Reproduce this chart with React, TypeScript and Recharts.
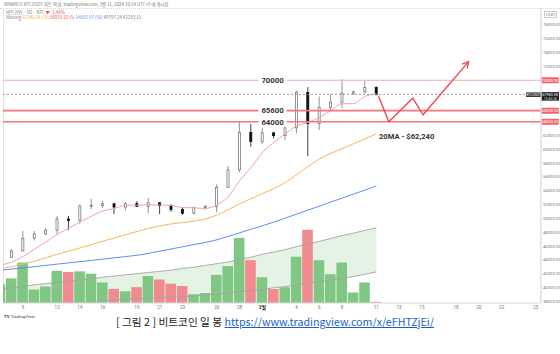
import {
  ComposedChart,
  Bar,
  Line,
  Area,
  XAxis,
  YAxis,
  Cell,
  ReferenceLine,
  ReferenceDot,
} from 'recharts';

// daily candles, Feb 7 – Mar 11 2024 (BTC/USDT)
const days = [
  '2/7', '2/8', '2/9', '2/10', '2/11', '2/12', '2/13', '2/14', '2/15', '2/16', '2/17',
  '2/18', '2/19', '2/20', '2/21', '2/22', '2/23', '2/24', '2/25', '2/26', '2/27', '2/28',
  '2/29', '3/1', '3/2', '3/3', '3/4', '3/5', '3/6', '3/7', '3/8', '3/9', '3/10', '3/11',
];
const opens = [
  43088, 44342, 45288, 47132, 47751, 48300, 49917, 49699, 51795, 51880, 52124,
  51642, 52138, 51739, 52258, 51849, 51288, 50744, 51568, 51730, 54476, 57037,
  62432, 61130, 62387, 61987, 63114, 68245, 63724, 66075, 66824, 68124, 68313, 68955,
];
const highs = [
  44370, 45580, 48200, 48170, 48592, 50334, 50368, 52043, 52816, 52572, 52191,
  52377, 52488, 52985, 52366, 52065, 51548, 51698, 51958, 54938, 57588, 64000,
  63676, 63114, 62433, 63231, 68499, 69000, 67637, 67985, 70136, 68541, 69887, 69150,
];
const lows = [
  42788, 44300, 45242, 46800, 47557, 47710, 48300, 49225, 51314, 51566, 50625,
  51163, 51677, 50760, 50625, 50940, 50521, 50585, 51279, 50901, 54450, 56690,
  60364, 60777, 61561, 61320, 62300, 59005, 62787, 65600, 66000, 67861, 68094, 67800,
];
const closes = [
  44342, 45288, 47132, 47751, 48300, 49917, 49699, 51795, 51880, 52124, 51642,
  52137, 51739, 52258, 51849, 51288, 50744, 51568, 51729, 54476, 57037, 62432,
  61130, 62387, 61987, 63113, 68245, 63724, 66074, 66823, 68124, 68313, 68955, 67950,
];
// volume, thousand BTC
const volumes = [
  32, 42, 69, 23, 28, 55, 53, 54, 50, 35, 24,
  20, 27, 46, 40, 33, 29, 15, 17, 48, 63, 111,
  73, 44, 24, 27, 79, 125, 73, 49, 69, 18, 35, 2,
];
const ma5 = [
  43240, 43658, 44486, 45521, 46563, 47678, 48560, 49492, 50318, 51083, 51428,
  51916, 51904, 51980, 51925, 51854, 51576, 51541, 51436, 51961, 53111, 55448,
  57361, 59492, 60995, 62210, 63372, 63891, 64629, 65596, 66598, 66612, 67658, 68033,
];
const ma20 = [
  42700, 43000, 43400, 43800, 44300, 44800, 45250, 45720, 46200, 46700, 47150,
  47650, 48100, 48550, 48900, 49200, 49400, 49600, 49900, 50500, 51250, 52100,
  52850, 53600, 54300, 55200, 56300, 57500, 58600, 59400, 60100, 60800, 61500, 62240,
];
const ma50 = [
  42480, 42660, 42840, 43020, 43200, 43380, 43560, 43740, 43920, 44100, 44290,
  44480, 44660, 44930, 45260, 45570, 45890, 46210, 46520, 46900, 47400, 47910,
  48430, 48930, 49470, 50030, 50610, 51200, 51770, 52370, 52930, 53520, 54100, 54690,
];
const volBandHigh = [
  24, 26, 28, 31, 33, 35, 37, 39, 41, 44, 46,
  48, 50, 52, 54, 56, 59, 61, 64, 67, 70, 74,
  78, 83, 87, 91, 96, 101, 105, 110, 115, 119, 124, 128,
];
const volBandLow = [
  0, 0, 0, 0, 0, 0, 0, 0, 0, 4, 5,
  6, 7, 8, 9, 10, 11, 12, 14, 15, 17, 19,
  21, 23, 26, 28, 31, 34, 36, 39, 42, 45, 49, 53,
];

const tickIndex = [1, 4, 6, 8, 11, 13, 15, 18, 20, 22, 25, 27, 29, 32, 34, 36, 39, 41, 43, 46];
const tickText = ['9', '12', '14', '16', '19', '21', '23', '26', '28', '3월', '4', '6', '8', '11', '13', '15', '18', '20', '22', '25'];
// price scale labels (those hidden under the level tags are left out)
const priceTicks = [
  38000, 40000, 42000, 44000, 46000, 48000, 50000, 52000, 54000, 56000, 58000,
  60000, 62000, 72000, 74000, 76000, 78000,
];
const levels = [70000, 65600, 64000];
const levelText = ['70000', '65600', '64000'];
const lastPrice = 67950;

// hand-drawn scenario path
const pathIdx = [32.2, 33.1, 35.2, 36.1, 40.1];
const pathPrice = [67700, 64000, 67400, 65000, 72700];

const data = days.map((d, k) => ({
  i: k - 1,
  date: d,
  open: opens[k],
  high: highs[k],
  low: lows[k],
  close: closes[k],
  range: [lows[k], highs[k]],
  volume: volumes[k],
  ma5: ma5[k],
  ma20: ma20[k],
  ma50: ma50[k],
  bandHi: volBandHigh[k],
  bandLo: volBandLow[k],
  band: [volBandLow[k], volBandHigh[k]],
}));

const pathData = pathIdx.map((v, k) => ({ i: v, p: pathPrice[k] }));

const GREEN = '#81c784';
const RED = '#f28b8f';
const NUM_FONT = 'Roboto, Arial, sans-serif';
const KR_FONT = '"Noto Sans CJK KR", "Noto Sans", sans-serif';

function Candle(props: any) {
  const { x, y, width, height, payload } = props;
  const top = Math.min(y, y + height);
  const h = Math.abs(height);
  const span = payload.high - payload.low || 1;
  const py = (v: number) => top + ((payload.high - v) / span) * h;
  const cx = x + width / 2;
  const up = payload.close >= payload.open;
  const bt = py(Math.max(payload.open, payload.close));
  const bb = py(Math.min(payload.open, payload.close));
  const col = up ? '#7a7a7a' : '#111';
  return (
    <g>
      <line x1={cx} x2={cx} y1={top} y2={top + h} stroke={col} strokeWidth={0.8} />
      <rect
        x={x}
        y={bt}
        width={width}
        height={Math.max(bb - bt, 0.8)}
        fill={up ? '#fff' : '#111'}
        stroke={col}
        strokeWidth={0.8}
      />
    </g>
  );
}

let prevPt: { x: number; y: number } | null = null;
function ArrowDot(props: any) {
  const { cx, cy, index } = props;
  if (index === 0) prevPt = null;
  let el = <g key={`ad-${index}`} />;
  if (index === pathIdx.length - 1 && prevPt) {
    const dx = cx - prevPt.x;
    const dy = cy - prevPt.y;
    const len = Math.hypot(dx, dy) || 1;
    const ux = dx / len;
    const uy = dy / len;
    const s = 7;
    const a = 0.5;
    const w1x = cx - s * (ux * Math.cos(a) - uy * Math.sin(a));
    const w1y = cy - s * (uy * Math.cos(a) + ux * Math.sin(a));
    const w2x = cx - s * (ux * Math.cos(a) + uy * Math.sin(a));
    const w2y = cy - s * (uy * Math.cos(a) - ux * Math.sin(a));
    el = (
      <path
        key={`ad-${index}`}
        d={`M${w1x},${w1y} L${cx},${cy} L${w2x},${w2y}`}
        stroke="#ef4a55"
        strokeWidth={1.4}
        fill="none"
      />
    );
  }
  prevPt = { x: cx, y: cy };
  return el;
}

function LevelText(props: any) {
  const { cx, cy, text } = props;
  return (
    <g>
      <rect x={cx - 14} y={cy - 4.5} width={28} height={9} fill="#fff" />
      <text x={cx} y={cy + 2.8} textAnchor="middle" fontSize={7.8} fontWeight={700} fill="#333" fontFamily={NUM_FONT}>
        {text}
      </text>
    </g>
  );
}

function NoteText(props: any) {
  const { cx, cy } = props;
  return (
    <text x={cx} y={cy + 2.8} fontSize={7.6} fontWeight={700} fill="#333" fontFamily={NUM_FONT}>
      20MA - $62,240
    </text>
  );
}

function RightTag({ viewBox, text, color }: any) {
  if (!viewBox) return null;
  const x = viewBox.x + viewBox.width;
  const y = viewBox.y;
  return (
    <g>
      <rect x={x + 0.5} y={y - 3} width={17.5} height={6} rx={1} fill={color} />
      <text x={x + 9.2} y={y + 1.5} textAnchor="middle" fontSize={4.2} fill="#fff" fontFamily={NUM_FONT}>
        {text}
      </text>
    </g>
  );
}

function PriceTag({ viewBox }: any) {
  if (!viewBox) return null;
  const x = viewBox.x + viewBox.width;
  const y = viewBox.y;
  return (
    <g>
      <rect x={x - 15} y={y - 2} width={15} height={4.5} fill="#2a2a2a" />
      <text x={x - 7.5} y={y + 1.4} textAnchor="middle" fontSize={3.4} fill="#fff" fontFamily={NUM_FONT}>
        BTCUSDT
      </text>
      <rect x={x + 0.5} y={y - 2.3} width={17.5} height={8.5} fill="#1e1e1e" />
      <text x={x + 9.2} y={y + 1.3} textAnchor="middle" fontSize={3.8} fill="#fff" fontFamily={NUM_FONT}>
        {lastPrice.toFixed(2)}
      </text>
      <text x={x + 9.2} y={y + 5.2} textAnchor="middle" fontSize={3.4} fill="#ddd" fontFamily={NUM_FONT}>
        13:45:28
      </text>
    </g>
  );
}

function XTick(props: any) {
  const { x, y, payload } = props;
  const k = tickIndex.indexOf(payload.value);
  const label = k >= 0 ? tickText[k] : '';
  const bold = label === '3월';
  return (
    <text
      x={x}
      y={y + 3.6}
      textAnchor="middle"
      fontSize={bold ? 5 : 4.6}
      fontWeight={bold ? 700 : 400}
      fill={bold ? '#333' : '#777'}
      fontFamily={bold ? KR_FONT : NUM_FONT}
    >
      {label}
    </text>
  );
}

function YTick(props: any) {
  const { x, y, payload } = props;
  return (
    <text x={x + 2} y={y + 1.5} fontSize={4.2} fill="#777" fontFamily={NUM_FONT}>
      {Number(payload.value).toFixed(2)}
    </text>
  );
}

const tiny: any = {
  position: 'absolute',
  fontFamily: KR_FONT,
  fontSize: 4.4,
  lineHeight: '5px',
  color: '#777',
  whiteSpace: 'nowrap',
};

export default function App() {
  return (
    <div
      style={{
        position: 'fixed',
        left: 0,
        top: 0,
        width: 560,
        height: 354,
        background: '#fff',
        overflow: 'hidden',
      }}
    >
      <div style={{ ...tiny, left: 4, top: 1.5 }}>
        BINANCE:BTCUSDT 차트 작성: tradingview.com, 3월 11, 2024 10:14 UTC+9 에 게시됨
      </div>
      <div style={{ position: 'absolute', left: 0, top: 7.5, width: 560, borderTop: '1px dotted #d6d6d6' }} />
      <div style={{ ...tiny, left: 6, top: 9.5 }}>
        비트코인 · 1D · BTC <span style={{ color: '#ef4a55' }}>▼ -1.46%</span>
      </div>
      <div style={{ ...tiny, left: 6, top: 15 }}>
        Moving <span style={{ color: '#f5a742' }}>62240.24 (20)</span>{' '}
        <span style={{ color: '#ef4a55' }}>68033.10 (5)</span>{' '}
        <span style={{ color: '#5c8ef2' }}>54692.97 (50)</span> 49797.24 42283.15
      </div>
      <div
        style={{
          ...tiny,
          left: 544,
          top: 10.5,
          fontFamily: NUM_FONT,
          fontSize: 3.8,
          border: '0.5px solid #ccc',
          padding: '0 1px',
          lineHeight: '5px',
        }}
      >
        USDT
      </div>
      <div style={{ position: 'absolute', left: 3, top: 8, height: 295, borderLeft: '1px solid #e3e3e3' }} />

      <div style={{ position: 'absolute', left: 0, top: 0 }}>
        <ComposedChart
          width={560}
          height={320}
          data={data}
          margin={{ top: 8, right: 0, bottom: 5, left: 3 }}
        >
          <XAxis
            xAxisId="x"
            dataKey="i"
            type="number"
            domain={[-0.75, 46.45]}
            allowDataOverflow
            ticks={tickIndex}
            interval={0}
            height={12}
            tickSize={0}
            tickMargin={2}
            tick={<XTick />}
            axisLine={{ stroke: '#d9d9d9' }}
            tickLine={false}
          />
          <XAxis xAxisId="xv" dataKey="i" type="number" domain={[-0.75, 46.45]} allowDataOverflow hide />
          <YAxis
            yAxisId="p"
            orientation="right"
            domain={[37754, 80461]}
            allowDataOverflow
            ticks={priceTicks}
            interval={0}
            width={19}
            tickSize={0}
            tickMargin={0}
            tick={<YTick />}
            axisLine={{ stroke: '#cfcfcf' }}
            tickLine={false}
          />
          <YAxis yAxisId="vol" domain={[0, 503]} allowDataOverflow hide />

          <Area
            xAxisId="x"
            yAxisId="vol"
            dataKey="band"
            type="monotone"
            fill="#e4f3e4"
            fillOpacity={1}
            stroke="none"
            isAnimationActive={false}
          />
          <Bar xAxisId="xv" yAxisId="vol" dataKey="volume" barSize={10.6} isAnimationActive={false}>
            {data.map((d, k) => (
              <Cell key={`v-${k}`} fill={d.close >= d.open ? GREEN : RED} />
            ))}
          </Bar>
          <Line xAxisId="x" yAxisId="vol" dataKey="bandHi" type="monotone" stroke="#a3a3a3" strokeWidth={0.9} dot={false} isAnimationActive={false} />
          <Line xAxisId="x" yAxisId="vol" dataKey="bandLo" type="monotone" stroke="#a3a3a3" strokeWidth={0.9} dot={false} isAnimationActive={false} />

          <Line xAxisId="x" yAxisId="p" dataKey="ma50" type="monotone" stroke="#5c8ef2" strokeWidth={1} dot={false} isAnimationActive={false} />
          <Line xAxisId="x" yAxisId="p" dataKey="ma20" type="monotone" stroke="#fbb45a" strokeWidth={1} dot={false} isAnimationActive={false} />
          <Line xAxisId="x" yAxisId="p" dataKey="ma5" type="monotone" stroke="#f5a3a9" strokeWidth={1} dot={false} isAnimationActive={false} />

          {levels.map((lv, k) => (
            <ReferenceLine
              key={`lv-${k}`}
              xAxisId="x"
              yAxisId="p"
              y={lv}
              stroke={k === 0 ? '#f7a9ad' : '#f4767c'}
              strokeWidth={k === 0 ? 1 : 1.6}
              label={(p: any) => <RightTag viewBox={p.viewBox} text={lv.toFixed(2)} color="#f0646d" />}
            />
          ))}
          <ReferenceLine
            xAxisId="x"
            yAxisId="p"
            y={lastPrice}
            stroke="#777"
            strokeWidth={0.7}
            strokeDasharray="2 2"
            label={(p: any) => <PriceTag viewBox={p.viewBox} />}
          />

          <Bar xAxisId="x" yAxisId="p" dataKey="range" barSize={8.8} shape={<Candle />} isAnimationActive={false} />

          <Line
            xAxisId="x"
            yAxisId="p"
            data={pathData}
            dataKey="p"
            type="linear"
            stroke="#ef4a55"
            strokeWidth={1.4}
            dot={ArrowDot}
            activeDot={false}
            isAnimationActive={false}
          />

          {levels.map((lv, k) => (
            <ReferenceDot
              key={`lt-${k}`}
              xAxisId="x"
              yAxisId="p"
              x={22.9}
              y={lv}
              r={0}
              shape={(p: any) => <LevelText {...p} text={levelText[k]} />}
            />
          ))}
          <ReferenceDot xAxisId="x" yAxisId="p" x={32.24} y={61860} r={0} shape={(p: any) => <NoteText {...p} />} />
        </ComposedChart>
      </div>

      <div style={{ ...tiny, left: 4, top: 313.5, fontFamily: NUM_FONT, color: '#444' }}>
        <b>TV</b> TradingView
      </div>
      <div
        style={{
          position: 'absolute',
          left: 0,
          width: 550,
          top: 314,
          textAlign: 'center',
          fontFamily: KR_FONT,
          fontSize: 10.7,
          color: '#222',
          whiteSpace: 'nowrap',
        }}
      >
        [ 그림 2 ] 비트코인 일 봉{' '}
        <span style={{ color: '#1a5fd0', textDecoration: 'underline' }}>
          https://www.tradingview.com/x/eFHTZjEi/
        </span>
      </div>
    </div>
  );
}
